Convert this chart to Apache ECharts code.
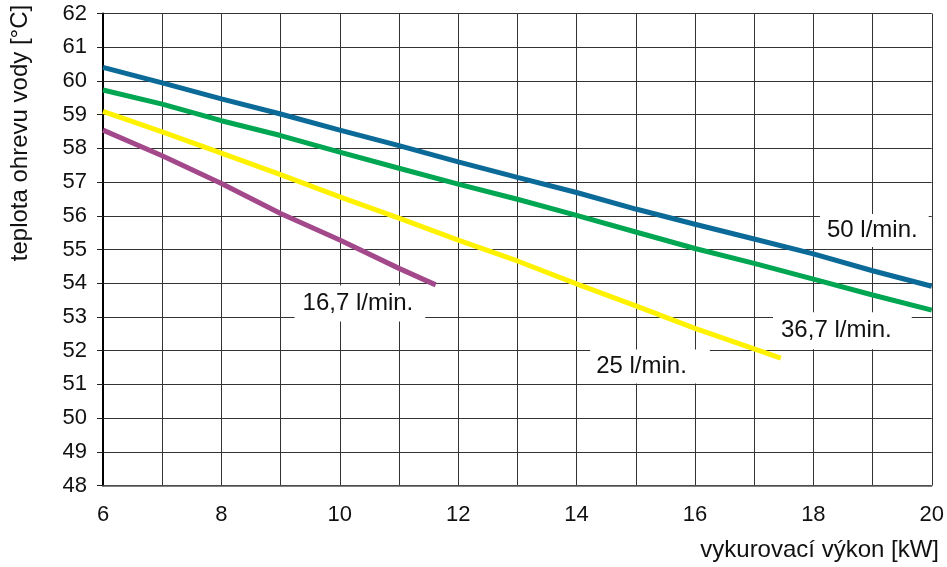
<!DOCTYPE html>
<html>
<head>
<meta charset="utf-8">
<script src="https://cdn.jsdelivr.net/npm/echarts@6/dist/echarts.min.js"></script>
<style>
html,body{margin:0;padding:0;background:#fff;}
#c{width:947px;height:567px;}
</style>
</head>
<body>
<div id="c"></div>
<script>
// Data
var xTicks = [6, 8, 10, 12, 14, 16, 18, 20];
var yTicks = [48, 49, 50, 51, 52, 53, 54, 55, 56, 57, 58, 59, 60, 61, 62];

var flow50 = [[6,60.40],[7,59.94],[8,59.47],[9,59.02],[10,58.54],[11,58.08],[12,57.60],[13,57.14],[14,56.69],[15,56.20],[16,55.75],[17,55.31],[18,54.87],[19,54.37],[20,53.91]];
var flow367 = [[6,59.73],[7,59.31],[8,58.82],[9,58.38],[10,57.89],[11,57.41],[12,56.94],[13,56.49],[14,56.01],[15,55.52],[16,55.03],[17,54.59],[18,54.12],[19,53.65],[20,53.20]];
var flow25 = [[6,59.10],[7,58.49],[8,57.86],[9,57.22],[10,56.56],[11,55.93],[12,55.28],[13,54.66],[14,53.98],[15,53.33],[16,52.66],[17,52.05],[17.45,51.78]];
var flow167 = [[6,58.54],[7,57.78],[8,56.96],[9,56.07],[10,55.28],[11,54.44],[11.62,53.95]];

var seriesNames = ['50 l/min.', '36,7 l/min.', '25 l/min.', '16,7 l/min.'];
var xName = 'vykurovací výkon [kW]';
var yName = 'teplota ohrevu vody [°C]';

var colors = ['#0b6a97', '#00a651', '#fff200', '#a3488b'];
var FONT = '"Liberation Sans", Arial, sans-serif';

function tag(name, coord, pad) {
  return {
    symbol: 'rect', symbolSize: 0,
    data: [{ coord: coord, value: name }],
    label: {
      show: true, position: 'inside', formatter: name,
      fontFamily: FONT, fontSize: 24, color: '#111',
      backgroundColor: '#fff', padding: pad, lineHeight: 24
    },
    itemStyle: { color: 'transparent' },
    silent: true
  };
}

function mkSeries(name, data, color, mp) {
  return {
    name: name, type: 'line', data: data, showSymbol: false, symbol: 'none',
    smooth: false, animation: false,
    lineStyle: { color: color, width: 5, cap: 'butt' },
    markPoint: mp, z: 3
  };
}

var chart = echarts.init(document.getElementById('c'), null, { renderer: 'canvas' });
chart.setOption({
  animation: false,
  backgroundColor: '#fff',
  grid: { left: 103, right: 14, top: 13.5, bottom: 81.5, containLabel: false },
  xAxis: {
    type: 'value', min: 6, max: 20, interval: 1,
    axisLine: { show: true, onZero: false, lineStyle: { color: '#555', width: 1.5 } },
    axisTick: { show: false },
    axisLabel: {
      margin: 18, fontFamily: FONT, fontSize: 22, color: '#111',
      formatter: function (v) { return xTicks.indexOf(v) >= 0 ? String(v) : ''; }
    },
    splitLine: { show: true, showMinLine: true, showMaxLine: true, lineStyle: { color: '#333', width: 1 } }
  },
  yAxis: {
    type: 'value', min: 48, max: 62, interval: 1,
    axisLine: { show: true, onZero: false, lineStyle: { color: '#000', width: 2 } },
    axisTick: { show: true, length: 6, lineStyle: { color: '#222', width: 1 } },
    axisLabel: {
      margin: 16, fontFamily: FONT, fontSize: 22, color: '#111', padding: [8, 0, 0, 0],
      formatter: function (v) { return yTicks.indexOf(v) >= 0 ? String(v) : ''; }
    },
    splitLine: { show: true, showMinLine: true, showMaxLine: true, lineStyle: { color: '#333', width: 1 } }
  },
  series: [
    mkSeries(seriesNames[0], flow50, colors[0], tag(seriesNames[0], [19.03, 55.56], [5, 11, 4, 7])),
    mkSeries(seriesNames[1], flow367, colors[1], tag(seriesNames[1], [18.49, 52.59], [7, 20, 6, 8])),
    mkSeries(seriesNames[2], flow25, colors[2], tag(seriesNames[2], [15.24, 51.53], [5, 23, 5, 6])),
    mkSeries(seriesNames[3], flow167, colors[3], tag(seriesNames[3], [10.34, 53.40], [6, 12, 6, 8]))
  ],
  graphic: [
    {
      type: 'text', x: 20, y: 133, rotation: Math.PI / 2, silent: true,
      style: { text: yName, font: '24px ' + FONT, fill: '#111', textAlign: 'center', textVerticalAlign: 'middle' }
    },
    {
      type: 'text', x: 939, y: 550, silent: true,
      style: { text: xName, font: '24px ' + FONT, fill: '#111', textAlign: 'right', textVerticalAlign: 'middle' }
    }
  ]
});
</script>
</body>
</html>
